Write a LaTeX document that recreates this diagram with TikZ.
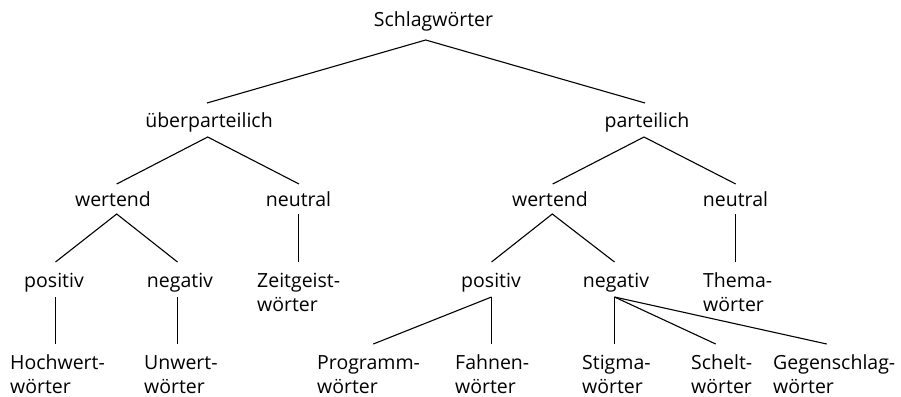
\documentclass[tikz,border=0pt]{standalone}
\usepackage{fontspec}
\setmainfont{Open Sans}
\usetikzlibrary{calc}
\tikzset{
  lbl/.style={inner sep=0pt, anchor=base, font=\fontsize{19.5}{24}\selectfont},
  lblw/.style={inner sep=0pt, anchor=base west, align=left, font=\fontsize{19.5}{24}\selectfont},
  edge/.style={line width=1.1pt, black}
}
\begin{document}
\begin{tikzpicture}[x=1pt,y=-1pt]
\useasboundingbox (0,0) rectangle (901,396);
% level 1
\node[lbl] (S) at (433.5,27) {Schlagwörter};
% level 2
\node[lbl] (U) at (209,127) {überparteilich};
\node[lbl] (P) at (647,127) {parteilich};
% level 3
\node[lbl] (W1) at (113,206) {wertend};
\node[lbl] (N1) at (298.5,206) {neutral};
\node[lbl] (W2) at (550,206) {wertend};
\node[lbl] (N2) at (735.5,206) {neutral};
% level 4 (two-line nodes: base = last line)
\node[lbl] (Pos1) at (54,287) {positiv};
\node[lbl] (Neg1) at (180,287) {negativ};
\node[lblw] (Z) at (257,311.7) {Zeitgeist-\\wörter};
\node[lbl] (Pos2) at (491,287) {positiv};
\node[lbl] (Neg2) at (616,287) {negativ};
\node[lblw] (T) at (703,311.7) {Thema-\\wörter};
% level 5
\node[lblw] (H) at (10,393) {Hochwert-\\wörter};
\node[lblw] (Un) at (144,393) {Unwert-\\wörter};
\node[lblw] (Pr) at (317,393) {Programm-\\wörter};
\node[lblw] (F) at (455,393) {Fahnen-\\wörter};
\node[lblw] (St) at (582,393) {Stigma-\\wörter};
\node[lblw] (Sc) at (691,393) {Schelt-\\wörter};
\node[lblw] (G) at (773,393) {Gegenschlag-\\wörter};
% connectors
\draw[edge] ($(U.base)+(-2,-24)$) -- ($(S.base)+(-7.8,13)$) -- ($(P.base)+(-2,-24)$);
\draw[edge] ($(W1.base)+(3.7,-22)$) -- ($(U.base)+(-1.3,10)$) -- ($(N1.base)+(0.5,-22)$);
\draw[edge] ($(W2.base)+(2.7,-22)$) -- ($(P.base)+(-3,10)$) -- ($(N2.base)+(0.2,-22)$);
\draw[edge] ($(Pos1.base)+(1.5,-25)$) -- ($(W1.base)+(3.7,8)$) -- ($(Neg1.base)+(-2.5,-25)$);
\draw[edge] ($(N1.base)+(0,8)$) -- ($(Z.base west)+(41.5,-49.7)$);
\draw[edge] ($(Pos2.base)+(0.5,-25)$) -- ($(W2.base)+(2.3,8)$) -- ($(Neg2.base)+(-1.5,-25)$);
\draw[edge] ($(N2.base)+(0,8)$) -- ($(T.base west)+(32.5,-49.7)$);
\draw[edge] ($(Pos1.base)+(1.5,10)$) -- ($(H.base west)+(45.5,-49)$);
\draw[edge] ($(Neg1.base)+(-2.5,10)$) -- ($(Un.base west)+(33.5,-49)$);
\draw[edge] ($(Pos2.base)+(0.5,10)$) -- ($(Pr.base west)+(56.3,-49)$);
\draw[edge] ($(Pos2.base)+(0.5,10)$) -- ($(F.base west)+(36.5,-49)$);
\draw[edge] ($(Neg2.base)+(-1.5,10)$) -- ($(St.base west)+(32.5,-49)$);
\draw[edge] ($(Neg2.base)+(-1.5,10)$) -- ($(Sc.base west)+(24.7,-49)$);
\draw[edge] ($(Neg2.base)+(-1.5,10)$) -- ($(G.base west)+(53.7,-49)$);
\end{tikzpicture}
\end{document}
